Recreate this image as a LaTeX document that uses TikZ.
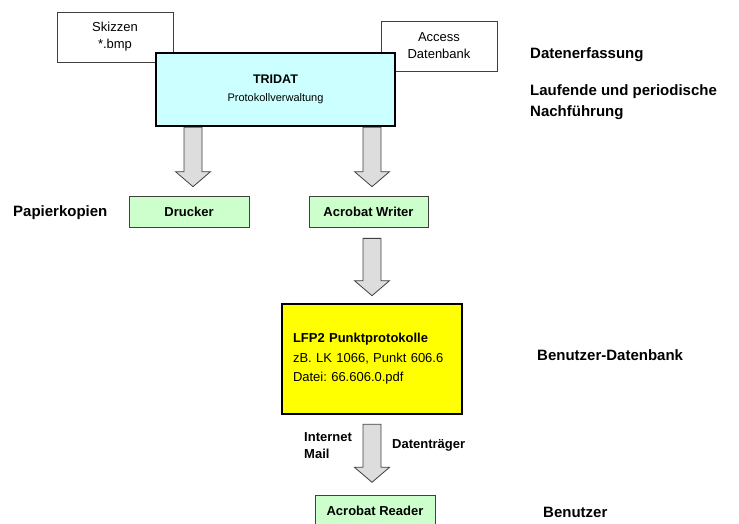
\documentclass[tikz,border=0pt]{standalone}
\usepackage{fontspec}
\setmainfont{Liberation Sans}
\usepackage{tikz}
\usetikzlibrary{calc, positioning}
\usepackage{xcolor}
\definecolor{cyanBox}{RGB}{204,255,255}
\definecolor{greenBox}{RGB}{204,255,204}
\definecolor{yellowBox}{RGB}{255,255,0}
\definecolor{arrowGray}{RGB}{221,221,221}
\frenchspacing

\begin{document}
\begin{tikzpicture}[
  x=1pt, y=-1pt,
  srcbox/.style={rectangle, draw=black!75, line width=0.7pt, fill=white,
                 minimum width=116pt, minimum height=50pt, inner sep=0pt,
                 align=center, font=\fontsize{13}{17}\selectfont},
  mainbox/.style={rectangle, draw=black, line width=2.6pt, inner sep=0pt},
  outbox/.style={rectangle, draw=black!75, line width=0.7pt, fill=greenBox,
                 minimum width=120pt, minimum height=31pt, inner sep=0pt,
                 font=\bfseries\fontsize{13}{15}\selectfont},
  sidelabel/.style={anchor=west, inner sep=0pt, align=left,
                    font=\bfseries\fontsize{15}{21}\selectfont},
  waylabel/.style={anchor=west, inner sep=0pt, align=left,
                   font=\bfseries\fontsize{13}{17}\selectfont},
  fatarrow/.style={draw=black!75, fill=arrowGray, line width=0.8pt,
    to path={($(\tikztostart)+(-9,0)$) -- ($(\tikztotarget)+(-9,-15)$)
      -- ($(\tikztotarget)+(-17.5,-15)$) -- (\tikztotarget)
      -- ($(\tikztotarget)+(17.5,-15)$) -- ($(\tikztotarget)+(9,-15)$)
      -- ($(\tikztostart)+(9,0)$) -- cycle}}
]
  \useasboundingbox (0,0) rectangle (739,524);

  % sources
  \node[srcbox] (skizzen) at (115,37) {Skizzen\\*.bmp};
  \node[srcbox] (access) at (439,46) {Access\\Datenbank};
  \node[mainbox, fill=cyanBox, minimum width=239pt, minimum height=73pt,
        align=center, font=\fontsize{11}{18}\selectfont]
    (tridat) at (275.5,89.5)
    {{\bfseries\fontsize{12.5}{18}\selectfont TRIDAT}\\Protokollverwaltung};

  % outputs
  \node[outbox] (drucker) at (189,211.5) {Drucker};
  \node[outbox, minimum width=119pt] (writer) at (368.5,211.5) {Acrobat Writer};
  \node[mainbox, fill=yellowBox, minimum width=180pt, minimum height=110pt,
        text width=158pt, inner xsep=11pt, align=left,
        font=\fontsize{13}{19.5}\selectfont]
    (lfp) at (372,359)
    {{\bfseries LFP2 Punktprotokolle}\\zB. LK 1066, Punkt 606.6\\Datei: 66.606.0.pdf};
  \node[outbox] (reader) at (375,511) {Acrobat Reader};

  % arrows
  \coordinate (a1s) at ($(tridat.south -| drucker.north)+(4,0)$);
  \coordinate (a1e) at ($(drucker.north)+(4,-9)$);
  \coordinate (a2s) at ($(tridat.south -| writer.north)+(3.5,0)$);
  \coordinate (a2e) at ($(writer.north)+(3.5,-9)$);
  \coordinate (a3s) at ($(writer.south)+(3.5,11)$);
  \coordinate (a3e) at ($(lfp.north)+(0,-7)$);
  \coordinate (a4s) at ($(lfp.south)+(0,9)$);
  \coordinate (a4e) at ($(lfp.south)+(0,67)$);
  \draw[fatarrow] (a1s) to (a1e);
  \draw[fatarrow] (a2s) to (a2e);
  \draw[fatarrow] (a3s) to (a3e);
  \draw[fatarrow] (a4s) to (a4e);

  \node[waylabel] (internet) at (304,446) {Internet\\Mail};
  \node[waylabel] (traeger) at (392,445) {Datenträger};

  % side labels
  \node[sidelabel] (papier) at (13,213) {Papierkopien};
  \node[sidelabel] (erfassung) at (530,55) {Datenerfassung};
  \node[sidelabel] (laufend) at (530,102.5) {Laufende und periodische\\Nachführung};
  \node[sidelabel] (bdb) at (537,355) {Benutzer-Datenbank};
  \node[sidelabel] (benutzer) at (543,512) {Benutzer};
\end{tikzpicture}
\end{document}
